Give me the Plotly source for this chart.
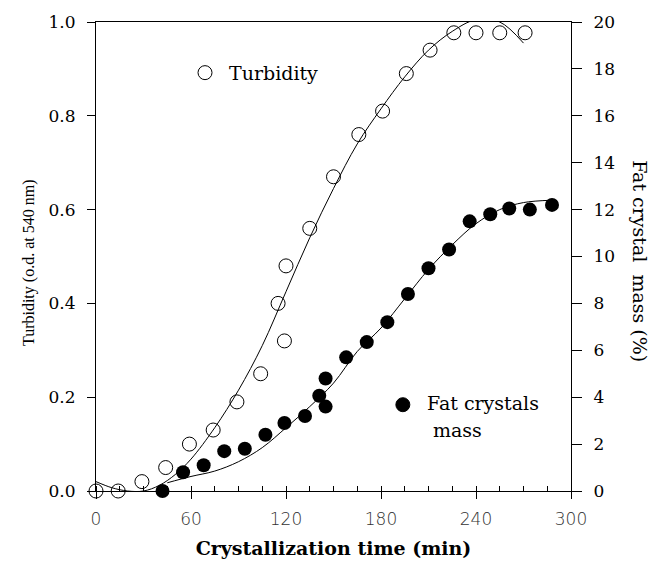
import plotly.graph_objects as go

# ---- data ----
turb_time = [0, 14, 29, 44, 59, 74, 89, 104, 115, 119, 120, 135, 150, 166, 181, 196, 211, 226, 240, 255, 271]
turb_val = [0.0, 0.0, 0.02, 0.05, 0.10, 0.13, 0.19, 0.25, 0.40, 0.32, 0.48, 0.56, 0.67, 0.76, 0.81, 0.89, 0.94, 0.977, 0.977, 0.977, 0.977]

turb_fit_time = [0, 10, 20, 30, 40, 50, 60, 75, 90, 105, 120, 135, 150, 165, 180, 195, 210, 225, 240, 255, 270]
turb_fit_val = [0.02, 0.007, 0.0, 0.0, 0.012, 0.035, 0.068, 0.135, 0.215, 0.31, 0.425, 0.54, 0.645, 0.74, 0.815, 0.883, 0.94, 0.98, 1.005, 1.0, 0.955]

mass_time = [42, 55, 68, 81, 94, 107, 119, 132, 141, 145, 145, 158, 171, 184, 197, 210, 223, 236, 249, 261, 274, 288]
mass_val = [0.0, 0.8, 1.1, 1.7, 1.8, 2.4, 2.9, 3.2, 4.06, 3.6, 4.8, 5.7, 6.35, 7.2, 8.4, 9.5, 10.3, 11.5, 11.8, 12.05, 12.0, 12.2]

mass_fit_time = [45, 60, 75, 90, 105, 120, 135, 150, 165, 180, 195, 210, 225, 240, 255, 270, 288]
mass_fit_val = [0.35, 0.62, 0.85, 1.25, 1.85, 2.7, 3.6, 4.6, 5.95, 6.95, 8.2, 9.45, 10.5, 11.4, 12.0, 12.3, 12.4]

x_ticks = [0, 60, 120, 180, 240, 300]
y_left_ticks = [0.0, 0.2, 0.4, 0.6, 0.8, 1.0]
y_right_ticks = [0, 2, 4, 6, 8, 10, 12, 14, 16, 18, 20]

SERIF = "DejaVu Serif"

fig = go.Figure()
fig.add_trace(go.Scatter(x=turb_fit_time, y=turb_fit_val, mode="lines", line=dict(color="black", width=1, shape="spline"),
                         showlegend=False, hoverinfo="skip"))
fig.add_trace(go.Scatter(x=turb_time, y=turb_val, mode="markers", cliponaxis=False,
                         marker=dict(symbol="circle-open", size=14, color="black", line=dict(width=1, color="black")),
                         showlegend=False))
fig.add_trace(go.Scatter(x=mass_fit_time, y=mass_fit_val, mode="lines", yaxis="y2",
                         line=dict(color="black", width=1, shape="spline"), showlegend=False, hoverinfo="skip"))
fig.add_trace(go.Scatter(x=mass_time, y=mass_val, mode="markers", yaxis="y2", cliponaxis=False,
                         marker=dict(symbol="circle", size=14, color="black"), showlegend=False))

fig.update_layout(
    width=652, height=568,
    margin=dict(l=96, r=81, t=19, b=76),
    paper_bgcolor="white", plot_bgcolor="white",
    xaxis=dict(range=[0, 300], tickvals=x_ticks, ticks="outside", ticklen=7, tickwidth=1, tickcolor="black",
               showline=True, linecolor="black", linewidth=1, mirror=True, showgrid=False, zeroline=False,
               minor=dict(dtick=15, ticks="inside", ticklen=5, tickcolor="black", showgrid=False),
               tickfont=dict(family="DejaVu Sans", size=17, color="#333", weight=200), ticklabelstandoff=6,
               title=dict(text="Crystallization time (min)", font=dict(family=SERIF, size=19, color="black", weight="bold"), standoff=13)),
    yaxis=dict(range=[0, 1], tickvals=y_left_ticks, tickformat=".1f", ticks="outside", ticklen=8, tickcolor="black",
               showline=True, linecolor="black", linewidth=1, showgrid=False, zeroline=False,
               tickfont=dict(family=SERIF, size=17, color="black"), ticklabelstandoff=8),
    yaxis2=dict(range=[0, 20], tickvals=y_right_ticks, overlaying="y", side="right", ticks="outside", ticklen=10,
                tickcolor="black", showline=True, linecolor="black", linewidth=1, showgrid=False, zeroline=False,
                tickfont=dict(family=SERIF, size=17, color="black"), ticklabelstandoff=8),
    annotations=[
        dict(text="Turbidity (o.d. at 540 nm)", xref="paper", yref="paper", x=0, y=0.486, xshift=-78,
             textangle=-90, showarrow=False, font=dict(family="Liberation Serif", size=16, color="black")),
        dict(text="Fat crystal  mass (%)", xref="paper", yref="paper", x=1, y=0.49, xshift=82,
             textangle=90, showarrow=False, font=dict(family=SERIF, size=19, color="black")),
        dict(text="Turbidity", xref="paper", yref="paper", x=0.276, y=0.892, xanchor="left", yanchor="middle",
             showarrow=False, font=dict(family=SERIF, size=19, color="black")),
        dict(text="Fat crystals", xref="paper", yref="paper", x=0.693, y=0.188, xanchor="left", yanchor="middle",
             showarrow=False, font=dict(family=SERIF, size=19, color="black")),
        dict(text="mass", xref="paper", yref="paper", x=0.706, y=0.131, xanchor="left", yanchor="middle",
             showarrow=False, font=dict(family=SERIF, size=19, color="black")),
    ],
    shapes=[
        dict(type="circle", xref="paper", yref="paper", xsizemode="pixel", ysizemode="pixel",
             xanchor=0.2295, yanchor=0.892, x0=-7, x1=7, y0=-7, y1=7, line=dict(color="black", width=1)),
        dict(type="circle", xref="paper", yref="paper", xsizemode="pixel", ysizemode="pixel",
             xanchor=0.646, yanchor=0.184, x0=-7, x1=7, y0=-7, y1=7, line=dict(color="black", width=1),
             fillcolor="black"),
    ],
)

fig.write_html("out.html")
